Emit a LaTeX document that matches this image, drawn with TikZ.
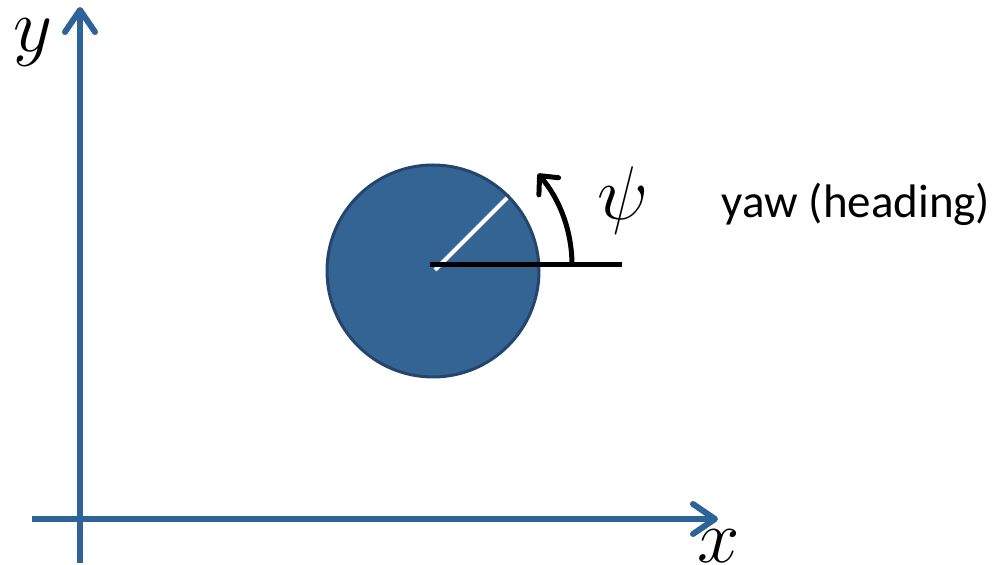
\RequirePackage{fix-cm}
\documentclass[tikz,border=0pt]{standalone}
\usepackage{fontspec}
\newfontfamily\labelfont{Carlito}
\usetikzlibrary{arrows.meta}
\definecolor{axisblue}{RGB}{46,99,153}
\definecolor{bodyfill}{RGB}{51,100,147}
\definecolor{bodyedge}{RGB}{36,70,110}
\tikzset{
  axis/.style={draw=axisblue, line width=6pt, line cap=butt, line join=round,
    -{Straight Barb[length=22pt, width=30pt, line cap=round, line join=round]}},
  mathlabel/.style={inner sep=0pt, font=\fontsize{76}{76}\selectfont},
}
\begin{document}
\begin{tikzpicture}[x=1pt, y=1pt]
\useasboundingbox (0,0) rectangle (997,565);
% axes
\coordinate (ybot) at (80,2);
\coordinate (ytop) at (80,558);
\coordinate (xleft) at (32,46);
\coordinate (xright) at (718,46);
\draw[axis] (ybot) -- (ytop);
\draw[axis] (xleft) -- (xright);
\node[mathlabel] (ylab) at (33,522) {$y$};
\node[mathlabel] (xlab) at (719,19) {$x$};
% body
\node[circle, minimum size=212pt, inner sep=0pt, fill=bodyfill, draw=bodyedge, line width=3pt] (body) at (433,294) {};
\coordinate (wstart) at (435,295);
\coordinate (wend) at (507,367);
\draw[white, line width=4pt] (wstart) -- (wend);
\coordinate (hstart) at (430,300);
\coordinate (hend) at (622,300);
\draw[black, line width=5pt] (hstart) -- (hend);
\coordinate (arcstart) at (572,300);
\draw[black, line width=5pt, -{Straight Barb[length=14pt, width=26pt, line cap=round, line join=round]}]
  (arcstart) arc[start angle=0, end angle=41, radius=139];
\node[mathlabel] (psilab) at (623,364) {$\psi$};
\node[inner sep=0pt, font=\labelfont\fontsize{47}{47}\selectfont] (yaw) at (856,361) {yaw (heading)};
\end{tikzpicture}
\end{document}
